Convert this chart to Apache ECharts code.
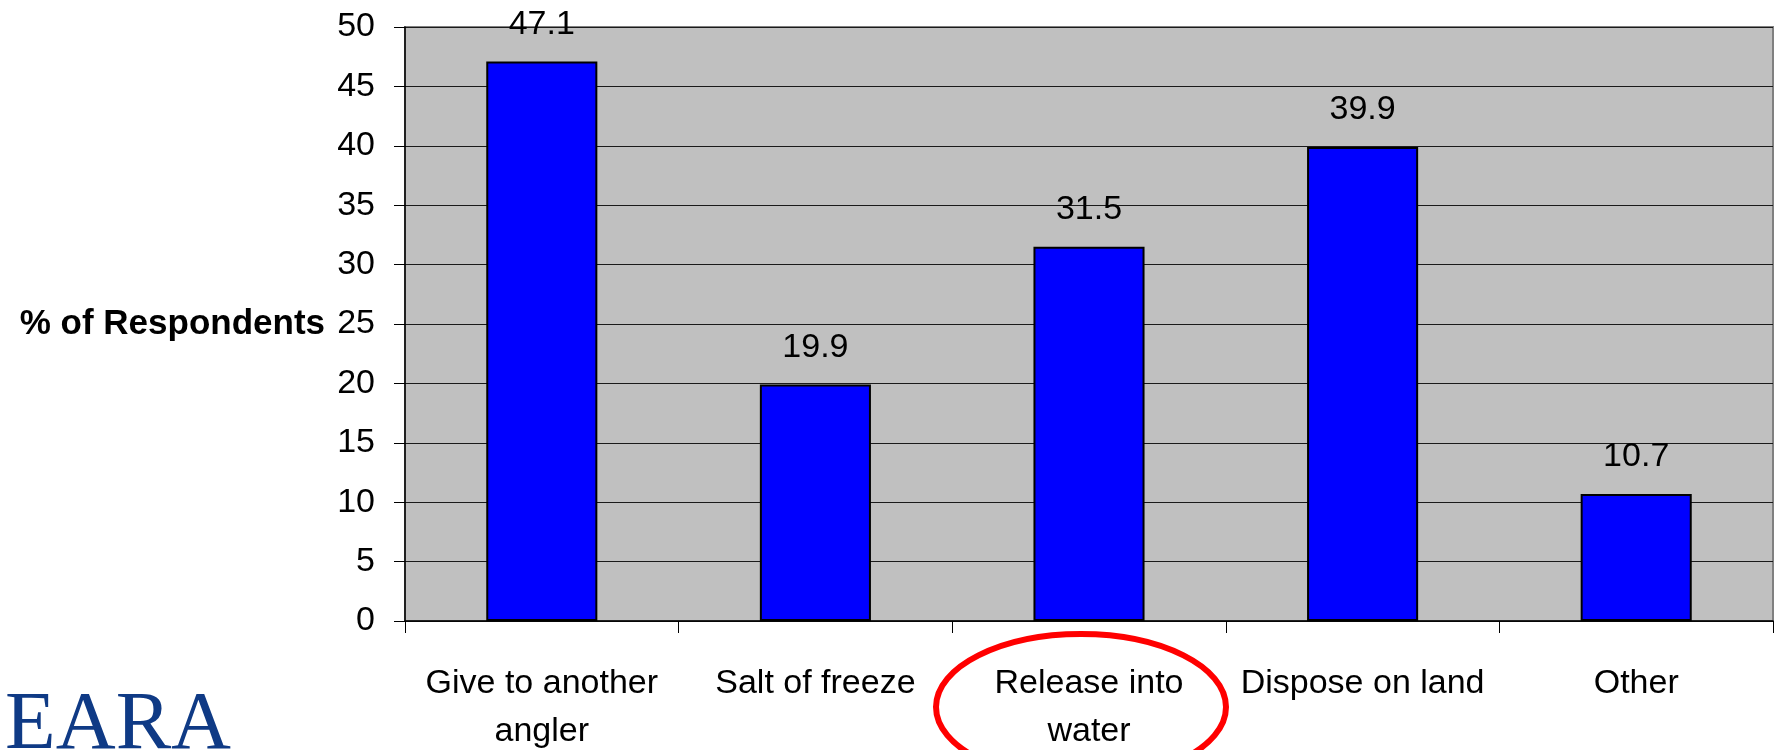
<!DOCTYPE html>
<html>
<head>
<meta charset="utf-8">
<script src="https://cdn.jsdelivr.net/npm/echarts@6/dist/echarts.min.js"></script>
<style>
  html, body { margin: 0; padding: 0; background: #ffffff; }
  #chart { width: 1774px; height: 750px; }
</style>
</head>
<body>
<div id="chart"></div>
<script>
// What respondents do with fish they do not keep
const categories = [
  'Give to another\nangler',
  'Salt of freeze',
  'Release into\nwater',
  'Dispose on land',
  'Other'
];
const percentValues = [47.1, 19.9, 31.5, 39.9, 10.7];
const yAxisTitle = '% of Respondents';
const highlightedCategory = 'Release into\nwater';
const logoText = 'EARA';

const FONT = '"Liberation Sans", Arial, sans-serif';

const chart = echarts.init(document.getElementById('chart'));

chart.setOption({
  animation: false,
  backgroundColor: '#ffffff',
  grid: {
    left: 405,
    right: 1,
    top: 27,
    bottom: 129,
    containLabel: false,
    outerBoundsMode: 'none',
    show: true,
    backgroundColor: '#C0C0C0',
    borderColor: '#808080',
    borderWidth: 2
  },
  xAxis: {
    type: 'category',
    data: categories,
    axisLine: { show: true, lineStyle: { color: '#000000', width: 1.5 } },
    axisTick: { show: true, length: 12, alignWithLabel: false, lineStyle: { color: '#000000', width: 1 } },
    axisLabel: {
      color: '#000000',
      fontFamily: FONT,
      fontSize: 34,
      lineHeight: 48,
      margin: 39,
      interval: 0
    },
    splitLine: { show: false }
  },
  yAxis: {
    type: 'value',
    min: 0,
    max: 50,
    interval: 5,
    name: yAxisTitle,
    nameLocation: 'middle',
    nameRotate: 0,
    nameGap: 80,
    nameTextStyle: {
      color: '#000000',
      fontFamily: FONT,
      fontSize: 35,
      fontWeight: 'bold',
      align: 'right',
      verticalAlign: 'middle'
    },
    axisLine: { show: true, lineStyle: { color: '#000000', width: 1.5 } },
    axisTick: { show: true, length: 11, lineStyle: { color: '#000000', width: 1 } },
    axisLabel: {
      color: '#000000',
      fontFamily: FONT,
      fontSize: 34,
      margin: 30
    },
    splitLine: { show: true, lineStyle: { color: '#1a1a1a', width: 1.2 } }
  },
  series: [{
    type: 'bar',
    data: percentValues,
    barWidth: '40.6%',
    itemStyle: {
      color: '#0000FF',
      borderColor: '#000000',
      borderWidth: 2
    },
    label: {
      show: true,
      position: 'top',
      distance: 20,
      color: '#000000',
      fontFamily: FONT,
      fontSize: 34,
      formatter: p => p.value.toFixed(1)
    }
  }]
});

// Red ring around the highlighted category label, plus the logo
const cx = chart.convertToPixel({ xAxisIndex: 0 }, highlightedCategory) - 8;
chart.setOption({
  graphic: [
    {
      type: 'ellipse',
      shape: { cx: cx, cy: 707, rx: 145, ry: 73 },
      style: { fill: 'none', stroke: '#FF0000', lineWidth: 6 },
      z: 100
    },
    {
      type: 'text',
      left: 5,
      top: 685,
      style: {
        text: logoText,
        fill: '#0F3A85',
        font: '83px "Liberation Serif", "Times New Roman", serif'
      },
      z: 100
    }
  ]
});
</script>
</body>
</html>
